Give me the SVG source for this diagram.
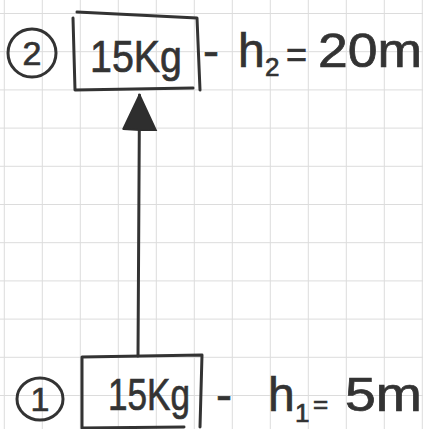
<svg xmlns="http://www.w3.org/2000/svg" width="423" height="429" viewBox="0 0 423 429">
<style>
.grid{stroke:#dcdcdc;stroke-width:1;fill:none}
.pen{stroke:#333;stroke-width:3;fill:none;stroke-linecap:round;stroke-linejoin:round}
.hw{font-family:"Liberation Sans","DejaVu Sans",sans-serif;fill:#333;stroke:#333;stroke-width:0.7}
.big{font-size:48px}
.box{font-size:44px}
.num{font-size:34px}
.sub{font-size:26px}
</style>
<defs>
<marker id="arrow" markerUnits="userSpaceOnUse" markerWidth="38" markerHeight="36" viewBox="0 0 38 36" refX="36" refY="17" orient="auto">
<path d="M36,17 L2,1 L0,34 Z" fill="#2e2e2e" stroke="#2e2e2e" stroke-width="2" stroke-linejoin="round"/>
</marker>
</defs>
<rect width="423" height="429" fill="#ffffff"/>
<g id="grid" class="grid">
<path d="M4.3,0V429M42.3,0V429M80.3,0V429M118.3,0V429M156.3,0V429M194.3,0V429M232.3,0V429M270.3,0V429M308.3,0V429M346.3,0V429M384.3,0V429M422.3,0V429"/>
<path d="M0,13.5H423M0,51.7H423M0,89.9H423M0,128.1H423M0,166.3H423M0,204.5H423M0,242.7H423M0,280.9H423M0,319.1H423M0,357.3H423M0,395.5H423"/>
</g>
<g id="connectors">
<path class="pen" d="M138,356 L139.5,95" marker-end="url(#arrow)"/>
</g>
<g id="node-2">
<circle class="pen" cx="32" cy="53" r="24"/>
<text class="hw num" x="32" y="65" text-anchor="middle">2</text>
<path class="pen" d="M77,12 L197,18 L200,90 M193,88 L75,90 L73,18"/>
<text class="hw box" x="90" y="72" textLength="92" lengthAdjust="spacingAndGlyphs">15Kg</text>
<text class="hw big" y="67"><tspan x="203">-</tspan><tspan x="238">h</tspan><tspan class="sub" x="265" dy="9">2</tspan><tspan x="286" dy="-9" font-size="36">=</tspan><tspan x="318" textLength="104" lengthAdjust="spacingAndGlyphs">20m</tspan></text>
</g>
<g id="node-1">
<ellipse class="pen" cx="40" cy="399" rx="23" ry="21"/>
<text class="hw num" x="40" y="411" text-anchor="middle">1</text>
<path class="pen" d="M82,357 L202,355 L200,427 M184,427 L82,428 L82,357"/>
<text class="hw box" x="108" y="410" textLength="82" lengthAdjust="spacingAndGlyphs">15Kg</text>
<text class="hw big" y="411"><tspan x="216">-</tspan><tspan x="268">h</tspan><tspan class="sub" x="295" dy="11">1</tspan><tspan class="sub" x="313" dy="-9">=</tspan><tspan x="345" dy="-2" textLength="77" lengthAdjust="spacingAndGlyphs">5m</tspan></text>
</g>
</svg>
